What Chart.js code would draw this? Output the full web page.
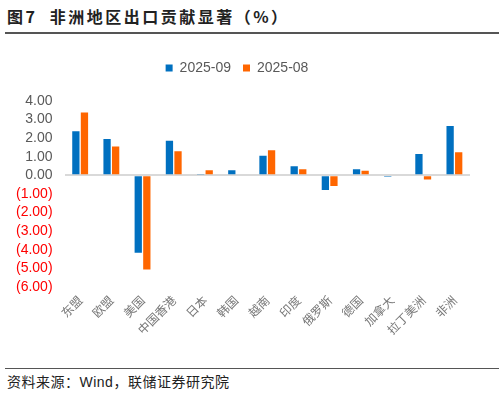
<!DOCTYPE html>
<html>
<head>
<meta charset="utf-8">
<script src="https://cdn.jsdelivr.net/npm/chart.js@4.4.1/dist/chart.umd.min.js"></script>
<style>
  body { margin: 0; width: 504px; height: 393px; background: #fff; overflow: hidden; position: relative; font-family: "Liberation Sans", "Noto Sans CJK SC", sans-serif; }
  .title { position: absolute; left: 7px; top: 4px; font-size: 16px; font-weight: bold; color: #222; font-family: "Noto Sans CJK SC", sans-serif; letter-spacing: 2.5px; }
  .rule { position: absolute; left: 5px; width: 494px; height: 1px; background: #555; }
  .source { position: absolute; left: 7px; top: 371px; font-size: 14px; color: #222; font-family: "Noto Sans CJK SC", sans-serif; letter-spacing: 0.5px; }
  .source span { font-family: "Liberation Sans", sans-serif; }
  #wrap { position: absolute; left: 0; top: 37px; width: 504px; height: 306px; }
</style>
</head>
<body>
<div class="title">图7&nbsp;&nbsp;非洲地区出口贡献显著（%）</div>
<div class="rule" style="top:32px;height:1.5px;"></div>
<div id="wrap"><canvas id="chart"></canvas></div>
<div class="rule" style="top:368px;"></div>
<div class="source">资料来源：<span>Wind</span>，联储证券研究院</div>
<script>
// 非洲地区出口贡献（%）
const categories = ['东盟', '欧盟', '美国', '中国香港', '日本', '韩国', '越南', '印度', '俄罗斯', '德国', '加拿大', '拉丁美洲', '非洲'];
const seriesNames = ['2025-09', '2025-08'];
const sep2025 = [2.37, 1.95, -4.16, 1.86, 0.07, 0.27, 1.06, 0.49, -0.79, 0.33, -0.08, 1.15, 2.65];
const aug2025 = [3.38, 1.55, -5.06, 1.30, 0.27, -0.05, 1.35, 0.33, -0.57, 0.25, 0.00, -0.22, 1.24];
const yTicks = [4, 3, 2, 1, 0, -1, -2, -3, -4, -5, -6];

const fmtTick = v => v < 0 ? '(' + Math.abs(v).toFixed(2) + ')' : v.toFixed(2);

// extra room under the legend
const legendSpacer = {
    id: 'legendSpacer',
    beforeInit: function(chart) {
        const fit = chart.legend.fit;
        chart.legend.fit = function() {
            fit.bind(chart.legend)();
            this.height += 16;
        };
    }
};

new Chart(document.getElementById('chart'), {
    type: 'bar',
    data: {
        labels: categories,
        datasets: [
            { label: seriesNames[0], data: sep2025, backgroundColor: '#0070C0' },
            { label: seriesNames[1], data: aug2025, backgroundColor: '#FF6600' }
        ]
    },
    options: {
        responsive: true,
        maintainAspectRatio: false,
        animation: false,
        categoryPercentage: 0.55,
        barPercentage: 0.85,
        layout: { padding: { left: 4, right: 34, top: 12, bottom: 0 } },
        scales: {
            x: {
                grid: { display: false, drawTicks: false },
                border: { display: false },
                ticks: {
                    autoSkip: false,
                    maxRotation: 45,
                    minRotation: 45,
                    padding: 6,
                    color: '#777',
                    font: { family: '"Noto Sans CJK SC", sans-serif', size: 12 }
                }
            },
            y: {
                min: Math.min(...yTicks),
                max: Math.max(...yTicks),
                afterBuildTicks: axis => { axis.ticks = yTicks.map(v => ({ value: v })); },
                border: { display: false },
                grid: {
                    drawTicks: false,
                    color: ctx => ctx.tick && ctx.tick.value === 0 ? '#d9d9d9' : 'rgba(0,0,0,0)',
                    lineWidth: 2
                },
                ticks: {
                    autoSkip: false,
                    padding: 12,
                    callback: v => fmtTick(v),
                    color: ctx => ctx.tick.value < 0 ? '#FF0000' : '#595959',
                    font: { family: '"Liberation Sans", sans-serif', size: 14 }
                }
            }
        },
        plugins: {
            legend: {
                display: true,
                position: 'top',
                labels: {
                    boxWidth: 7,
                    boxHeight: 7,
                    padding: 12,
                    color: '#595959',
                    font: { family: '"Liberation Sans", sans-serif', size: 14 }
                }
            },
            tooltip: { enabled: false }
        }
    },
    plugins: [legendSpacer]
});
</script>
</body>
</html>
